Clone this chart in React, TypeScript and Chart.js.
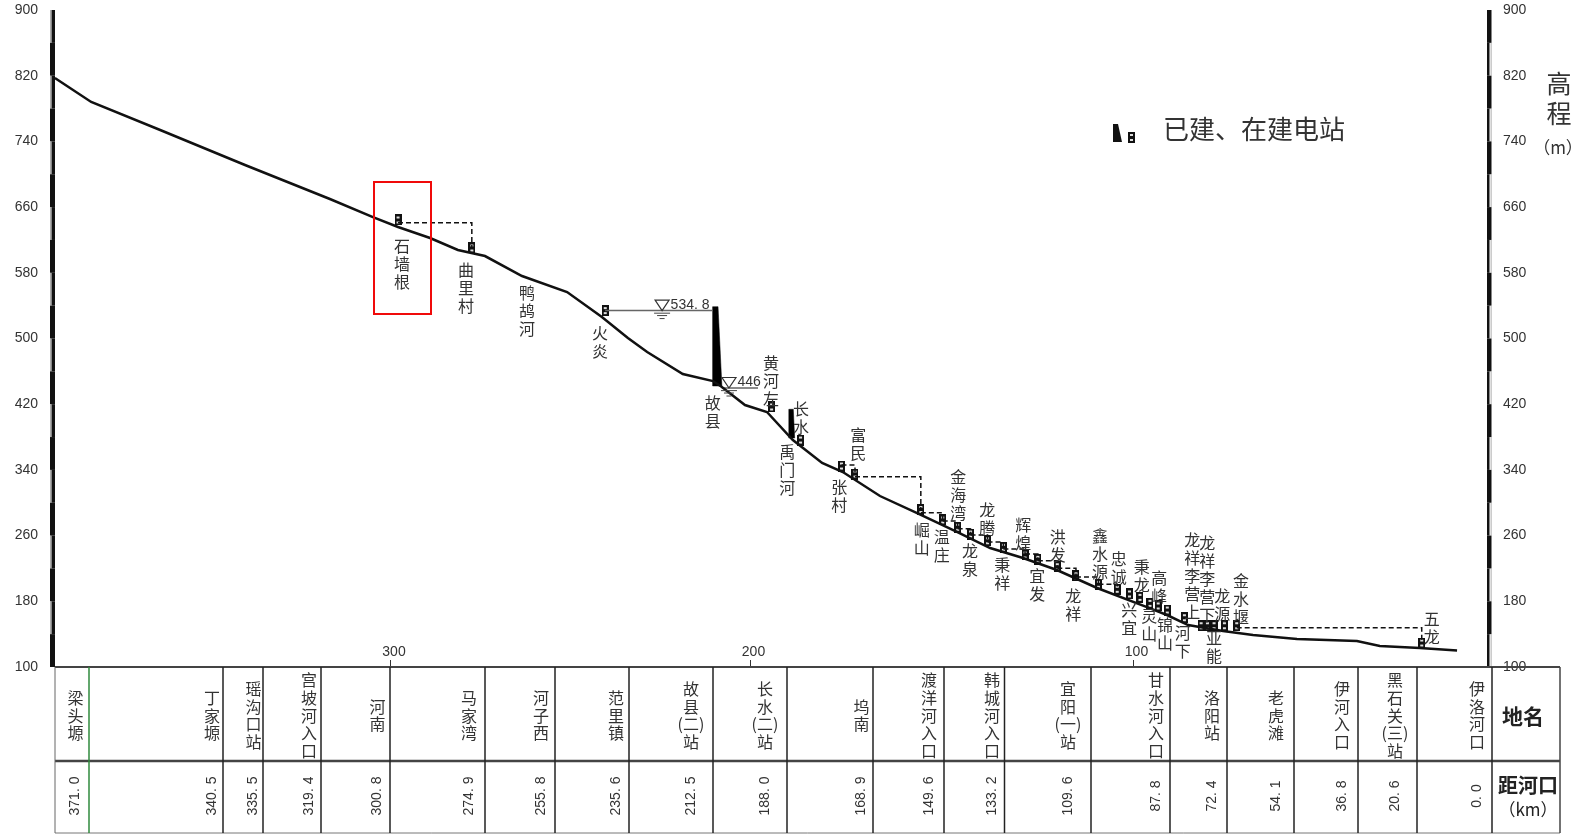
import React, { useEffect, useRef } from "react";
import { Chart, LinearScale, registerables } from "chart.js";

// ---- table columns -------------------------------------------------------
const placeNames = ["梁头塬","丁家塬","瑶沟口站","宫坡河入口","河南","马家湾","河子西","范里镇","故县(二)站","长水(二)站","坞南","渡洋河入口","韩城河入口","宜阳(一)站","甘水河入口","洛阳站","老虎滩","伊河入口","黑石关(三)站","伊洛河口"];
const placeKm = [371.0,340.5,335.5,319.4,300.8,274.9,255.8,235.6,212.5,188.0,168.9,149.6,133.2,109.6,87.8,72.4,54.1,36.8,20.6,0.0];
const axisTicksKm = [300,200,100];

// ---- river-bed profile ---------------------------------------------------
const bedKm = [379.3,370.5,354.8,337.75,317,305.4,298,289.5,282.1,274.9,264.8,252.5,243,235.9,230.6,220.8,212.5,209.5,201.7,194.5,186.7,180.2,175.6,167,156.9,146.1,137.1,128.15,118.9,108.2,95.4,88.8,82.9,73.5,65.3,53.3,37.1,30.8,19.8,9.6];
const bedElevation = [817.2,788,753.9,711.3,669.9,647.9,635.8,622.4,607.8,600.4,576.1,556.6,526.2,500.6,483.5,456.8,448.2,440.9,419,410.5,376.4,348.4,337.4,308.2,287.5,264.4,244.9,232.7,218.1,196.2,173,163.3,151.1,143.8,138.9,134.1,131.6,125.6,123.1,120];

// ---- stations ------------------------------------------------------------
const stationNames = ["石墙根","曲里村","火炎","黄河左","长水","张村","富民","崛山","温庄","金海湾","龙泉","龙腾","秉祥","辉煌","宜发","洪发","龙祥","鑫水源","忠诚","兴宜","秉龙","灵山","高峰","锦山","河下","龙祥李营上","龙祥李营下","亚能","龙源","金水堰","五龙"];
const stationKm = [298,278.4,242.1,193,185,175.9,172.9,155.9,149.95,145.9,142.4,137.8,133.5,127.6,124.1,118.8,113.7,107.9,103.6,100.8,97.7,94.4,91.7,88.7,83.9,79.4,77.7,75.9,73.1,69.75,19.3];
const stationElevation = [644.3,610.2,534,416.6,376.4,344.7,335,291.8,279,270.1,261.9,253.8,245.7,236.4,231.1,222.1,211.1,200.7,194.6,188.9,184.8,177.5,174.3,169.4,160,150.3,150.3,150.3,150.3,150.3,129.2];

// dashed diversion lines: from station, to station, elevation of the run
const diversionFrom = ["石墙根","张村","富民","崛山","温庄","金海湾","龙泉","龙腾","秉祥","辉煌","宜发","洪发","龙祥","鑫水源","金水堰"];
const diversionTo = ["曲里村","富民","崛山","温庄","金海湾","龙泉","龙腾","秉祥","辉煌","宜发","洪发","龙祥","鑫水源","忠诚","五龙"];
const diversionElevation = [641,345.9,331.7,287.9,277.8,268.4,260.7,252.2,243.7,237.6,229.4,220.2,209.6,200.7,147.8];

// ---- dams and water levels ----------------------------------------------
const guxianDamKm = [212.6,210.8,209.5,212.6,212.6];
const guxianDamElevation = [538.7,538.7,442.2,442.2,538.7];
const changshuiDamKm = [187.6,186.6,186.3,187.6,187.6];
const changshuiDamElevation = [413.8,413.8,378.8,378.8,413.8];
const waterKm = [226.5,207.1];
const waterElevation = [534,439.7];
const waterLabels = ["534. 8","446"];

// ---- layout (pixels on the page) ----------------------------------------
const PLOT = { left: 52, right: 1492, top: 10, bottom: 667 };
const TABLE = { left: 55, right: 1560, top: 667, split: 761, bottom: 833 };
const knotKm = [380,371,340.5,335.5,319.4,300.8,300,274.9,255.8,235.6,212.5,200,188,168.9,149.6,133.2,109.6,100,87.8,72.4,54.1,36.8,20.6,0];
const knotPx = [52,89,223,263,321,390,390.5,485,555,629,713,750,787,873,944,1004.5,1091,1133,1170,1227,1294,1358,1417,1492];
const placeTextX = [75.5,212,253.6,309,377.5,469,541,616,691,765,861.6,929,992,1068,1156,1212,1276,1342,1395,1477];
const extraLabels = ["鸭鸪河","故县","禹门河"];
const extraLabelX = [527,712.7,787.3];
const extraLabelY = [293,402.7,451.7];
const stationLabelX = [402,466,600,771,801,839.3,858.3,921.7,941.7,958.3,970,987.3,1002.3,1023.3,1037.3,1057.7,1073.3,1100,1118.7,1129.3,1141.7,1149.3,1159.3,1165,1182.7,1192.3,1207.3,1214,1222.3,1241,1431.7];
const stationLabelY = [246,270,333,362.7,409,486.7,435,530,537.3,476.7,550.7,510,565,525,576,536.7,596,536,559.3,610,567.3,616,578.3,625,632.7,540,542.7,638.3,595.7,580.7,619.3];

const CJK = '"Noto Sans CJK SC"';
const LATIN = '"Liberation Sans"';
const INK = "#2b2b2b";

class StationKmScale extends LinearScale {
  static id = "stationKm";
  getPixelForValue(value: number) {
    const n = knotKm.length;
    let px = knotPx[0];
    if (value <= knotKm[n - 1]) px = knotPx[n - 1];
    else if (value < knotKm[0]) {
      for (let i = 0; i < n - 1; i++) {
        if (value <= knotKm[i] && value >= knotKm[i + 1]) {
          const t = (knotKm[i] - value) / (knotKm[i] - knotKm[i + 1]);
          px = knotPx[i] + t * (knotPx[i + 1] - knotPx[i]);
          break;
        }
      }
    }
    return (this as any).left + ((px - PLOT.left) / (PLOT.right - PLOT.left)) * (this as any).width;
  }
}

Chart.register(...registerables, StationKmScale as any);

function makeIcon() {
  const c = document.createElement("canvas");
  c.width = 7;
  c.height = 11;
  const g = c.getContext("2d")!;
  g.fillStyle = "#111";
  g.fillRect(0, 0, 7, 11);
  g.fillStyle = "#ddd";
  g.fillRect(2, 2, 3, 2);
  g.fillRect(2, 7, 3, 2);
  return c;
}

let stationIcon: HTMLCanvasElement | null = null;

const pts = (xs: number[], ys: number[]) => xs.map((x, i) => ({ x, y: ys[i] }));

function diversionPoints() {
  const out: { x: number; y: number | null }[] = [];
  diversionFrom.forEach((from, i) => {
    const a = stationNames.indexOf(from);
    const b = stationNames.indexOf(diversionTo[i]);
    out.push({ x: stationKm[a], y: diversionElevation[i] });
    out.push({ x: stationKm[b], y: diversionElevation[i] });
    out.push({ x: stationKm[b], y: stationElevation[b] });
    out.push({ x: stationKm[b], y: null });
  });
  return out;
}

function text(ctx: CanvasRenderingContext2D, s: string, x: number, y: number, font: string, color = INK, align: CanvasTextAlign = "center") {
  ctx.font = font;
  ctx.fillStyle = color;
  ctx.textAlign = align;
  ctx.textBaseline = "middle";
  ctx.fillText(s, x, y);
}

function line(ctx: CanvasRenderingContext2D, x0: number, y0: number, x1: number, y1: number, color: string, w: number) {
  ctx.strokeStyle = color;
  ctx.lineWidth = w;
  ctx.beginPath();
  ctx.moveTo(x0, y0);
  ctx.lineTo(x1, y1);
  ctx.stroke();
}

const decorations = {
  id: "decorations",
  beforeDraw(chart: any) {
    const { ctx, width, height } = chart;
    ctx.save();
    ctx.fillStyle = "#fff";
    ctx.fillRect(0, 0, width, height);
    ctx.restore();
  },
  afterDatasetsDraw(chart: any) {
    const { ctx } = chart;
    const sx = chart.scales.x;
    const sy = chart.scales.y;
    ctx.save();

    // banded elevation rulers
    let k = 0;
    for (let v = 900; v > 100; v -= 40, k++) {
      const y0 = sy.getPixelForValue(v);
      const y1 = sy.getPixelForValue(v - 40);
      ctx.fillStyle = "#111";
      if (k % 2 === 0) {
        ctx.fillRect(51.5, y0, 3.5, y1 - y0);
        ctx.fillRect(1487, y0, 4.5, y1 - y0);
        ctx.fillStyle = "#999";
        ctx.fillRect(50, y0, 0.8, y1 - y0);
      } else {
        ctx.fillRect(50, y0, 5, y1 - y0);
        ctx.fillRect(1487, y0, 2.5, y1 - y0);
        ctx.fillStyle = "#999";
        ctx.fillRect(1490.7, y0, 0.8, y1 - y0);
      }
    }

    // table grid
    line(ctx, TABLE.left, TABLE.top, TABLE.right, TABLE.top, "#444", 2);
    line(ctx, TABLE.left, TABLE.split, TABLE.right, TABLE.split, "#444", 2.5);
    line(ctx, TABLE.left, TABLE.bottom, TABLE.right, TABLE.bottom, "#777", 1);
    line(ctx, TABLE.left, TABLE.top, TABLE.left, TABLE.bottom, "#666", 1);
    line(ctx, TABLE.right, TABLE.top, TABLE.right, TABLE.bottom, "#444", 1.5);
    placeKm.forEach((km, i) => {
      const x = sx.getPixelForValue(km);
      line(ctx, x, TABLE.top, x, TABLE.bottom, i === 0 ? "#2f8a3c" : "#222", 1.5);
    });

    // table text
    placeNames.forEach((name, i) => {
      const tokens = name.match(/\(.\)|./gu) || [];
      const x = placeTextX[i];
      tokens.forEach((tok, j) => {
        text(ctx, tok, x, 715.5 + (j - (tokens.length - 1) / 2) * 17.8, `16px ${CJK}`, "#333");
      });
      ctx.save();
      ctx.translate(x, 796);
      ctx.rotate(-Math.PI / 2);
      text(ctx, placeKm[i].toFixed(1).replace(".", ". "), 0, 0, `14px ${LATIN}`, "#333");
      ctx.restore();
    });
    text(ctx, "地名", 1523, 716, `bold 21px ${CJK}`, "#222");
    text(ctx, "距河口", 1528, 785, `bold 20px ${CJK}`, "#222");
    text(ctx, "（km）", 1528, 810, `17px ${CJK}`, "#222");

    // station and river labels
    const vertical = (s: string, x: number, y: number) => {
      [...s].forEach((ch, j) => text(ctx, ch, x, y + j * 18, `16px ${CJK}`, "#333"));
    };
    stationNames.forEach((s, i) => vertical(s, stationLabelX[i], stationLabelY[i]));
    extraLabels.forEach((s, i) => vertical(s, extraLabelX[i], extraLabelY[i]));

    // water-level symbols
    waterKm.forEach((km, i) => {
      const x = sx.getPixelForValue(km);
      const y = sy.getPixelForValue(waterElevation[i]);
      ctx.strokeStyle = "#333";
      ctx.lineWidth = 1.2;
      ctx.beginPath();
      ctx.moveTo(x - 7, y - 10.5);
      ctx.lineTo(x + 7, y - 10.5);
      ctx.lineTo(x, y);
      ctx.closePath();
      ctx.stroke();
      line(ctx, x - 8, y + 2.6, x + 8, y + 2.6, "#444", 1);
      line(ctx, x - 5, y + 5, x + 5, y + 5, "#444", 1);
      line(ctx, x - 2.5, y + 8, x + 2.5, y + 8, "#444", 1);
      text(ctx, waterLabels[i], x + 8.5, y - 5.5, `14px ${LATIN}`, "#333", "left");
    });

    // axis title and legend
    text(ctx, "高", 1559, 83, `25px ${CJK}`, "#333");
    text(ctx, "程", 1559, 113, `25px ${CJK}`, "#333");
    text(ctx, "（m）", 1558, 148, `17px ${CJK}`, "#333");
    ctx.fillStyle = "#111";
    ctx.beginPath();
    ctx.moveTo(1113, 124);
    ctx.lineTo(1118, 124);
    ctx.lineTo(1122, 142);
    ctx.lineTo(1113, 142);
    ctx.closePath();
    ctx.fill();
    if (stationIcon) ctx.drawImage(stationIcon, 1128, 132);
    text(ctx, "已建、在建电站", 1163, 129, `26px ${CJK}`, "#333", "left");

    // highlight box
    ctx.strokeStyle = "#f00a0a";
    ctx.lineWidth = 2;
    ctx.strokeRect(374, 182, 57, 132);
    ctx.restore();
  },
};

export default function App() {
  const ref = useRef<HTMLCanvasElement>(null);
  useEffect(() => {
    document.body.style.margin = "0";
    document.body.style.background = "#fff";
    stationIcon = makeIcon();
    const reservoir = [
      { x: stationKm[2], y: waterElevation[0] },
      { x: 212.6, y: waterElevation[0] },
      { x: 212.6, y: null },
      { x: 209.5, y: waterElevation[1] },
      { x: 197.4, y: waterElevation[1] },
    ];
    const axisFont = { family: "Liberation Sans", size: 14 };
    const fixY = (width: number) => (s: any) => {
      s.width = width;
      s.paddingTop = PLOT.top;
      s.paddingBottom = 0;
    };
    const chart: any = new Chart(ref.current!, {
      type: "line",
      data: {
        datasets: [
          { label: "河床", data: pts(bedKm, bedElevation), borderColor: "#111", borderWidth: 2.5, pointRadius: 0, tension: 0 },
          { label: "水位", data: reservoir as any, borderColor: "#666", borderWidth: 1.5, pointRadius: 0 },
          { label: "引水", data: diversionPoints() as any, borderColor: "#111", borderWidth: 1.5, borderDash: [5, 3], pointRadius: 0 },
          { label: "故县坝", data: pts(guxianDamKm, guxianDamElevation), borderColor: "#000", backgroundColor: "#000", borderWidth: 0.5, pointRadius: 0, fill: "shape" },
          { label: "长水坝", data: pts(changshuiDamKm, changshuiDamElevation), borderColor: "#000", backgroundColor: "#000", borderWidth: 0.5, pointRadius: 0, fill: "shape" },
          { label: "电站", data: pts(stationKm, stationElevation), showLine: false, pointStyle: stationIcon as any, pointRadius: 5, pointHoverRadius: 5 },
        ],
      },
      options: {
        responsive: false,
        animation: false,
        devicePixelRatio: 1,
        events: [],
        layout: { padding: 0 },
        plugins: { legend: { display: false }, tooltip: { enabled: false } },
        scales: {
          x: {
            type: "stationKm" as any,
            min: 0,
            max: 380,
            position: "bottom",
            border: { display: false },
            grid: { drawOnChartArea: false, drawTicks: true, tickLength: -7, tickColor: "#333", tickWidth: 1 },
            ticks: { autoSkip: false, maxRotation: 0, mirror: true, padding: 6.5, labelOffset: 3.5, color: "#333", font: axisFont },
            afterBuildTicks: (s: any) => { s.ticks = axisTicksKm.map((value) => ({ value })); },
            afterFit: (s: any) => { s.height = 834 - PLOT.bottom; s.paddingLeft = 0; s.paddingRight = 0; },
          },
          y: {
            min: 100,
            max: 900,
            position: "left",
            border: { display: false },
            grid: { display: false, drawTicks: false },
            ticks: { stepSize: 80, padding: 14, color: "#333", font: axisFont },
            afterFit: fixY(PLOT.left),
          },
          y2: {
            min: 100,
            max: 900,
            position: "right",
            border: { display: false },
            grid: { display: false, drawTicks: false },
            ticks: { stepSize: 80, padding: 11, color: "#333", font: axisFont },
            afterFit: fixY(1581 - PLOT.right),
          },
        },
      },
      plugins: [decorations as any],
    });
    return () => chart.destroy();
  }, []);
  return <canvas ref={ref} width={1581} height={834} style={{ display: "block" }} />;
}
